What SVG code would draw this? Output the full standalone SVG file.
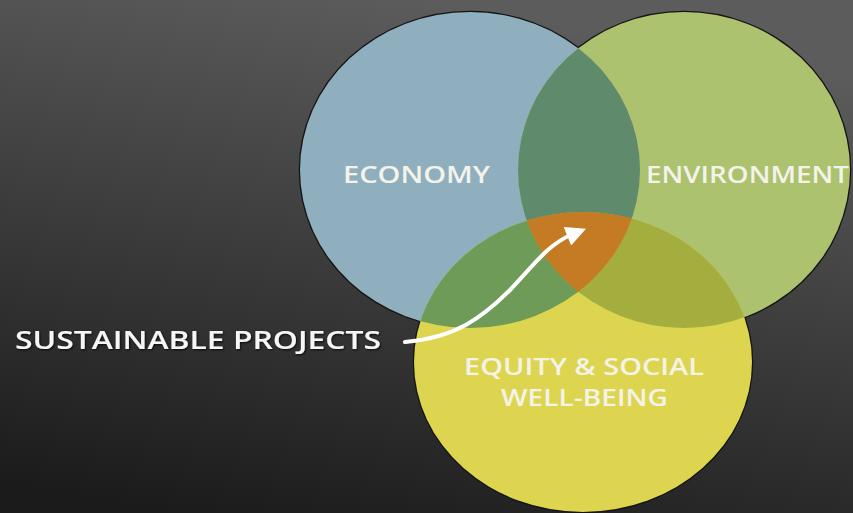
<svg xmlns="http://www.w3.org/2000/svg" width="853" height="513" viewBox="0 0 853 513">
  <style>
    .lbl { font-family: "Open Sans", "Liberation Sans", sans-serif; font-weight: 600; font-size: 24px; fill: #f3f3ea; }
    .big { font-size: 25px; fill: #f6f6f6; }
    .outline { stroke: #141414; stroke-width: 2.5; }
  </style>
  <defs>
    <linearGradient id="bg" x1="0.5" y1="0" x2="0.2" y2="1">
      <stop offset="0" stop-color="#5c5c5c"/>
      <stop offset="1" stop-color="#1b1b1b"/>
    </linearGradient>
    <clipPath id="clipEco"><ellipse cx="470" cy="170" rx="170" ry="158"/></clipPath>
    <clipPath id="clipEnv"><ellipse cx="684" cy="170" rx="166" ry="158"/></clipPath>
    <marker id="arrow" viewBox="0 0 10 10" refX="3" refY="5" markerWidth="5.5" markerHeight="5" orient="auto" markerUnits="strokeWidth">
      <path d="M0,0 L10,5 L0,10 Z" fill="#ffffff"/>
    </marker>
    <filter id="shadow" x="-10%" y="-30%" width="120%" height="160%">
      <feDropShadow dx="1" dy="1" stdDeviation="1" flood-color="#000" flood-opacity="0.8"/>
    </filter>
  </defs>

  <rect x="0" y="0" width="853" height="513" fill="url(#bg)"/>

  <!-- outlines -->
  <g class="outline" fill="none">
    <ellipse cx="470" cy="170" rx="170" ry="158"/>
    <ellipse cx="684" cy="170" rx="166" ry="158"/>
    <ellipse cx="583" cy="362" rx="169" ry="150"/>
  </g>

  <g id="economy">
    <ellipse cx="470" cy="170" rx="170" ry="158" fill="#8faebe"/>
  </g>
  <g id="environment">
    <ellipse cx="684" cy="170" rx="166" ry="158" fill="#adc26e"/>
  </g>
  <g id="equity">
    <ellipse cx="583" cy="362" rx="169" ry="150" fill="#ddd54f"/>
  </g>
  <g id="overlaps">
    <g clip-path="url(#clipEco)">
      <ellipse cx="684" cy="170" rx="166" ry="158" fill="#5f8a6c"/>
      <ellipse cx="583" cy="362" rx="169" ry="150" fill="#6f9b58"/>
    </g>
    <g clip-path="url(#clipEnv)">
      <ellipse cx="583" cy="362" rx="169" ry="150" fill="#a3ae3f"/>
    </g>
    <g clip-path="url(#clipEco)">
      <g clip-path="url(#clipEnv)">
        <ellipse cx="583" cy="362" rx="169" ry="150" fill="#c57a24"/>
      </g>
    </g>
  </g>

  <g id="labels">
    <text class="lbl" x="343" y="183" textLength="147" lengthAdjust="spacingAndGlyphs">ECONOMY</text>
    <text class="lbl" x="646" y="183" textLength="203" lengthAdjust="spacingAndGlyphs">ENVIRONMENT</text>
    <text class="lbl" x="464" y="375" textLength="240" lengthAdjust="spacingAndGlyphs">EQUITY &amp; SOCIAL</text>
    <text class="lbl" x="501" y="406" textLength="167" lengthAdjust="spacingAndGlyphs">WELL-BEING</text>
  </g>

  <g id="sustainable">
    <text class="lbl big" x="15" y="349" textLength="366" lengthAdjust="spacingAndGlyphs" filter="url(#shadow)">SUSTAINABLE PROJECTS</text>
  </g>

  <g id="connectors">
    <path d="M405,342 C455,338 482,318 510,290 C533,266 548,244 573,234" fill="none" stroke="#ffffff" stroke-width="4" stroke-linecap="round" marker-end="url(#arrow)"/>
  </g>
</svg>
